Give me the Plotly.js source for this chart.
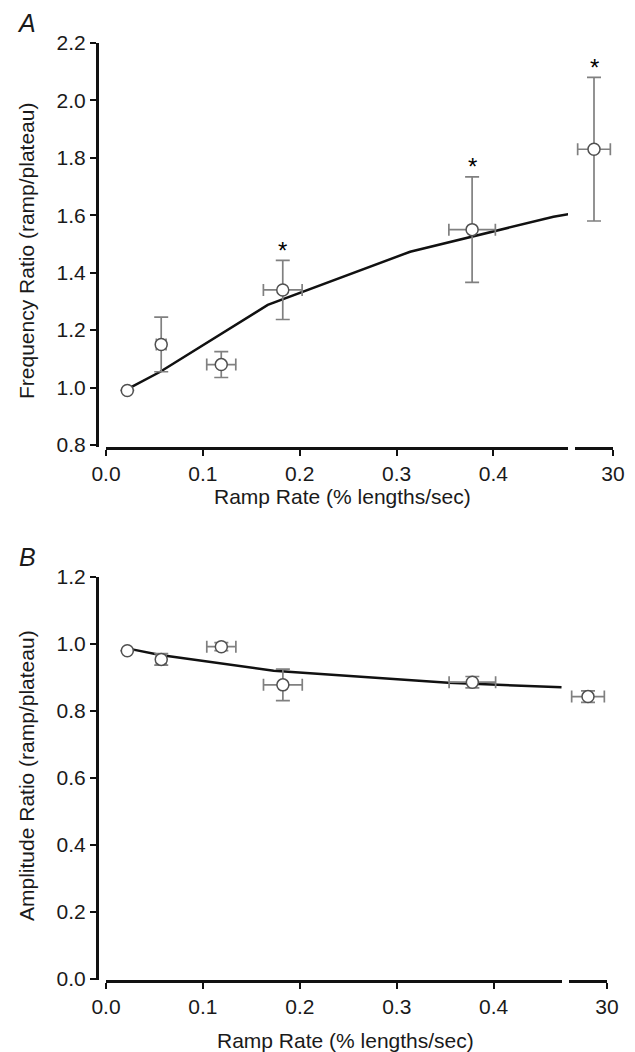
<!DOCTYPE html>
<html><head><meta charset="utf-8">
<script src="https://cdn.plot.ly/plotly-3.0.1.min.js"></script>
<style>html,body{margin:0;padding:0;background:#fff}#chart{width:635px;height:1052px}</style>
</head><body><div id="chart"></div>
<script>
// ---------- Panel A: frequency ratio ----------
const rampRate      = [0.022, 0.057, 0.119, 0.1825, 0.378];
const rampRateErr   = [0, 0.005, 0.015, 0.020, 0.024];
const fastRate      = [29.5];
const fastRateErr   = [0.43];
const freqRatio     = [0.99, 1.15, 1.08, 1.34, 1.55];
const freqErr       = [0, 0.095, 0.045, 0.103, 0.184];
const fastFreq      = [1.83];
const fastFreqErr   = [0.25];
const freqSig       = [false, false, false, true, true];
const fastFreqSig   = [true];
const modelRateA    = [0.025, 0.056, 0.167, 0.314, 0.462, 0.483];
const modelFreq     = [1.0, 1.055, 1.288, 1.473, 1.595, 1.607];
// ---------- Panel B: amplitude ratio ----------
const ampRatio      = [0.98, 0.954, 0.992, 0.878, 0.886];
const ampErr        = [0, 0.017, 0.012, 0.047, 0.017];
const fastAmp       = [0.843];
const fastAmpErr    = [0.017];
const modelRateB    = [0.027, 0.056, 0.173, 0.294, 0.353, 0.470];
const modelAmp      = [0.984, 0.967, 0.920, 0.895, 0.884, 0.871];
// ---------- ticks & labels ----------
const xTicks        = [0.0, 0.1, 0.2, 0.3, 0.4];
const xTickLabels   = ['0.0', '0.1', '0.2', '0.3', '0.4'];
const breakTicks    = [30];
const breakLabels   = ['30'];
const freqTicks     = [0.8, 1.0, 1.2, 1.4, 1.6, 1.8, 2.0, 2.2];
const ampTicks      = [0.0, 0.2, 0.4, 0.6, 0.8, 1.0, 1.2];
const xTitle        = 'Ramp Rate (% lengths/sec)';
const yTitleA       = 'Frequency Ratio (ramp/plateau)';
const yTitleB       = 'Amplitude Ratio (ramp/plateau)';

const W = 635, H = 1052;
const px = v => v / W, py = v => 1 - v / H;
const FONT = 'Liberation Sans, Arial, sans-serif';
const TXT = '#1a1a1a';
const ERRC = '#808080';

function pts(x, y, xe, ye, xa, ya) {
  return {
    x: x, y: y, xaxis: xa, yaxis: ya, type: 'scatter', mode: 'markers',
    cliponaxis: false, hoverinfo: 'skip',
    marker: {symbol: 'circle', size: 12, color: '#ffffff', line: {color: '#505050', width: 1.5}},
    error_x: {type: 'data', array: xe, visible: true, color: ERRC, thickness: 1.7, width: 6},
    error_y: {type: 'data', array: ye, visible: true, color: ERRC, thickness: 1.7, width: 7}
  };
}
function curve(x, y, xa, ya) {
  return {x: x, y: y, xaxis: xa, yaxis: ya, type: 'scatter', mode: 'lines', hoverinfo: 'skip',
          line: {color: '#111111', width: 2.5}};
}

const traces = [
  curve(modelRateA, modelFreq, 'x', 'y'),
  pts(rampRate, freqRatio, rampRateErr, freqErr, 'x', 'y'),
  pts(fastRate, fastFreq, fastRateErr, fastFreqErr, 'x2', 'y'),
  curve(modelRateB, modelAmp, 'x3', 'y2'),
  pts(rampRate, ampRatio, rampRateErr, ampErr, 'x3', 'y2'),
  pts(fastRate, fastAmp, fastRateErr, fastAmpErr, 'x4', 'y2')
];

const axBase = {
  showline: true, linecolor: '#111', linewidth: 2.5, ticks: 'outside', ticklen: 6, tickwidth: 2,
  tickcolor: '#111', showgrid: false, zeroline: false, fixedrange: true,
  tickfont: {family: FONT, size: 21, color: TXT}
};
const fmt = v => v.toFixed(1);

const layout = {
  width: W, height: H, margin: {l: 0, r: 0, t: 0, b: 0, pad: 0},
  paper_bgcolor: '#fff', plot_bgcolor: 'rgba(0,0,0,0)', showlegend: false,
  xaxis: Object.assign({}, axBase, {domain: [px(106), px(568)], range: [0, 0.477], anchor: 'y',
          tickmode: 'array', tickvals: xTicks, ticktext: xTickLabels}),
  xaxis2: Object.assign({}, axBase, {domain: [px(575), px(613)], range: [29, 30], anchor: 'y',
          tickmode: 'array', tickvals: breakTicks, ticktext: breakLabels}),
  yaxis: Object.assign({}, axBase, {domain: [py(447), py(43)], range: [0.793, 2.2], anchor: 'free',
          position: px(97), tickmode: 'array', tickvals: freqTicks, ticktext: freqTicks.map(fmt)}),
  xaxis3: Object.assign({}, axBase, {domain: [px(106), px(562)], range: [0, 0.4705], anchor: 'y2',
          tickmode: 'array', tickvals: xTicks, ticktext: xTickLabels}),
  xaxis4: Object.assign({}, axBase, {domain: [px(569), px(607)], range: [29, 30], anchor: 'y2',
          tickmode: 'array', tickvals: breakTicks, ticktext: breakLabels}),
  yaxis2: Object.assign({}, axBase, {domain: [py(980), py(577)], range: [-0.003, 1.2], anchor: 'free',
          position: px(97), tickmode: 'array', tickvals: ampTicks, ticktext: ampTicks.map(fmt)}),
  annotations: []
};

const ann = layout.annotations;
function star(x, y, xr, yr) {
  ann.push({x: x, y: y, xref: xr, yref: yr, text: '*', showarrow: false, yanchor: 'middle',
            xanchor: 'center', yshift: 10, font: {family: FONT, size: 24, color: '#000'}});
}
rampRate.forEach((r, i) => { if (freqSig[i]) star(r, freqRatio[i] + freqErr[i], 'x', 'y'); });
fastRate.forEach((r, i) => { if (fastFreqSig[i]) star(r, fastFreq[i] + fastFreqErr[i], 'x2', 'y'); });

function label(text, x, y, opts) {
  ann.push(Object.assign({text: text, x: px(x), y: py(y), xref: 'paper', yref: 'paper', showarrow: false,
    xanchor: 'center', yanchor: 'middle', font: {family: FONT, size: 21, color: TXT}}, opts || {}));
}
label('<i>A</i>', 26, 23, {font: {family: FONT, size: 25, color: TXT}});
label('<i>B</i>', 27, 557, {font: {family: FONT, size: 25, color: TXT}});
label(xTitle, 342, 497);
label(xTitle, 345, 1040);
label(yTitleA, 26, 251, {textangle: -90});
label(yTitleB, 26, 776, {textangle: -90});

Plotly.newPlot('chart', traces, layout, {staticPlot: true, displayModeBar: false});
</script>
</body></html>
